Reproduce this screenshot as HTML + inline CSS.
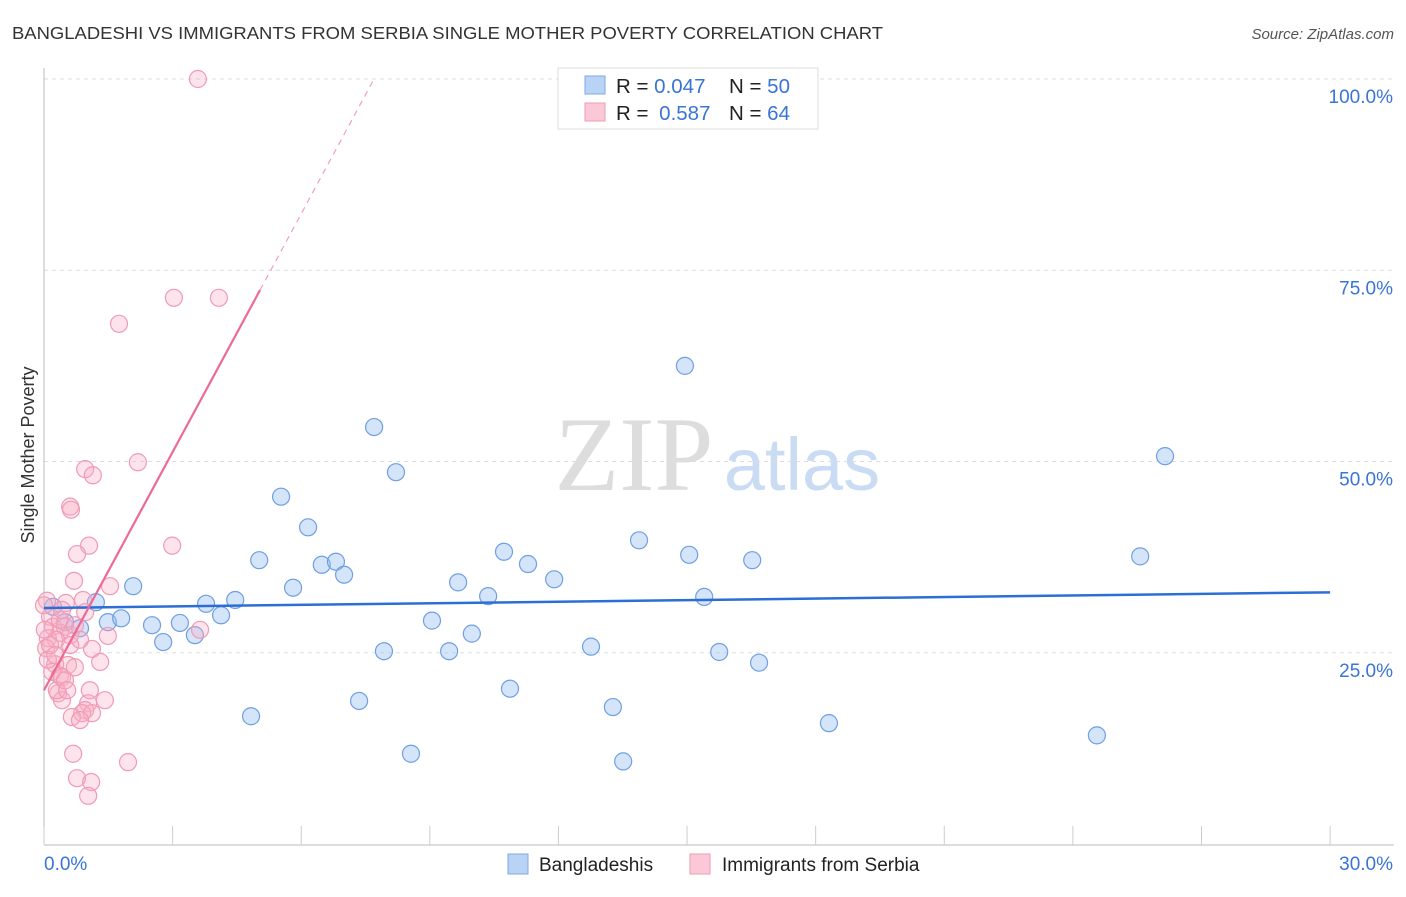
<!DOCTYPE html>
<html><head><meta charset="utf-8"><style>
body{margin:0;background:#fff;font-family:"Liberation Sans",sans-serif;}
svg text{font-family:"Liberation Sans",sans-serif;}
</style></head><body>
<svg id="chart" width="1406" height="892">
<text x="12" y="39" font-size="17.5" fill="#333" textLength="871" lengthAdjust="spacingAndGlyphs">BANGLADESHI VS IMMIGRANTS FROM SERBIA SINGLE MOTHER POVERTY CORRELATION CHART</text>
<text x="1394" y="39" font-size="15" fill="#555" font-style="italic" text-anchor="end">Source: ZipAtlas.com</text>
<text transform="translate(34,455) rotate(-90)" font-size="18" fill="#333" text-anchor="middle">Single Mother Poverty</text>
<g>
<text x="634" y="490" font-size="106" fill="#ddd" text-anchor="middle" font-family="Liberation Serif" style="font-family:'Liberation Serif',serif">ZIP</text>
<text x="802" y="490" font-size="74" fill="#c9dcf3" text-anchor="middle">atlas</text>
</g>
<g id="grid"></g><g id="axes"></g><g id="pts"></g><g id="lines"></g>
<g>
<rect x="558" y="68" width="260" height="61" fill="#fff" stroke="#ddd"/>
<rect x="585" y="76" width="20" height="18" fill="#b9d3f5" stroke="#7ea9e6"/>
<rect x="585" y="103" width="20" height="18" fill="#fbc8d7" stroke="#f19ab5"/>
<text x="616" y="93" font-size="20.5" fill="#222">R = <tspan fill="#3a74d6">0.047</tspan></text>
<text x="729" y="93" font-size="20.5" fill="#222">N = <tspan fill="#3a74d6">50</tspan></text>
<text x="616" y="120" font-size="20.5" fill="#222">R = <tspan fill="#3a74d6" dx="5">0.587</tspan></text>
<text x="729" y="120" font-size="20.5" fill="#222">N = <tspan fill="#3a74d6">64</tspan></text>
</g>
<g>
<rect x="508" y="854" width="20" height="20" fill="#b9d3f5" stroke="#7ea9e6"/>
<text x="539" y="871" font-size="19" fill="#222">Bangladeshis</text>
<rect x="690" y="854" width="20" height="20" fill="#fbc8d7" stroke="#f19ab5"/>
<text x="722" y="871" font-size="19" fill="#222">Immigrants from Serbia</text>
</g>
</svg>
<script>
const blueX=[0.21,0.49,0.84,1.21,1.49,1.80,2.08,2.52,2.78,3.17,3.52,3.78,4.13,4.46,4.83,5.02,5.53,5.81,6.16,6.48,6.81,7.00,7.35,7.70,7.93,8.21,8.56,9.05,9.45,9.66,9.98,10.36,10.73,10.87,11.29,11.90,12.76,13.27,13.51,13.88,14.95,15.05,15.40,15.75,16.52,16.68,18.31,24.56,25.57,26.15];
const blueY=[31.0,29.0,28.2,31.6,29.0,29.5,33.7,28.6,26.4,28.9,27.3,31.4,29.9,31.9,16.7,37.1,45.4,33.5,41.4,36.5,36.9,35.2,18.7,54.5,25.2,48.6,11.8,29.2,25.2,34.2,27.5,32.4,38.2,20.3,36.6,34.6,25.8,17.9,10.8,39.7,62.5,37.8,32.3,25.1,37.1,23.7,15.8,14.2,37.6,50.7];
const pinkX=[3.59,3.03,4.08,1.75,2.19,0.96,1.14,0.61,0.63,1.05,2.99,0.77,0.70,1.54,0.07,0.51,0.91,0.96,0.14,0.21,0.37,0.49,0.61,0.09,0.28,1.49,3.64,1.12,0.05,0.26,0.56,0.72,0.19,0.37,0.42,1.31,0.33,0.42,1.42,1.03,0.96,0.89,1.12,0.65,0.84,0.68,1.96,0.77,1.10,1.03,0.02,0.09,0.30,0.49,0.37,0.14,0.26,0.61,0.72,0.42,0.84,0.54,1.07,0.0];
const pinkY=[100,71.4,71.4,68.0,49.9,49.0,48.2,44.1,43.7,39.0,39.0,37.9,34.4,33.7,31.8,31.5,31.9,30.3,29.7,28.4,27.6,28.4,27.3,26.9,26.7,27.2,28.0,25.5,25.6,23.5,23.4,23.1,22.5,22.0,21.8,23.8,19.7,18.8,18.8,18.4,17.5,17.1,17.1,16.6,16.2,11.8,10.7,8.6,8.1,6.3,28.0,24.1,20.1,21.4,29.3,26.0,24.7,26.0,28.6,30.6,26.7,20.1,20.1,31.2];
const yTicks=[25,50,75,100];
const yTickLabels=["25.0%","50.0%","75.0%","100.0%"];
const xTicks=[0,3,6,9,12,15,18,21,24,27,30];
const blueFit=[30.85,32.9];
const pinkFit=[20.1,10.38];
const NS="http://www.w3.org/2000/svg";
const sx=v=>44+v*42.87, sy=v=>844-v*7.65;
function mk(t,a,p){const e=document.createElementNS(NS,t);for(const k in a)e.setAttribute(k,a[k]);document.getElementById(p).appendChild(e);return e;}
yTicks.forEach((v,i)=>{
 const l=mk('line',{x1:44,x2:1394,y1:sy(v),y2:sy(v),stroke:'#ddd','stroke-dasharray':'4,4'},'grid');
 
 
 const t=mk('text',{x:1393,y:sy(v)+24,'text-anchor':'end','font-size':19,fill:'#3a74d6'},'grid');
 t.textContent=yTickLabels[i];
 
 
});
const ax=mk('line',{x1:44,x2:1394,y1:845,y2:845,stroke:'#bbb'},'axes');


const ay=mk('line',{x1:44,x2:44,y1:68,y2:845,stroke:'#bbb'},'axes');


xTicks.forEach(v=>{
 const l=mk('line',{x1:sx(v),x2:sx(v),y1:826,y2:845,stroke:'#ccc'},'axes');
 
 
});
const t0=mk('text',{x:44,y:870,'font-size':19,fill:'#3a74d6'},'axes');t0.textContent=xTicks[0].toFixed(1)+'%';


const t1=mk('text',{x:1393,y:870,'font-size':19,fill:'#3a74d6','text-anchor':'end'},'axes');t1.textContent=xTicks[xTicks.length-1].toFixed(1)+'%';


blueX.forEach((x,i)=>{
 const c=mk('circle',{cx:sx(x),cy:sy(blueY[i]),r:8.5,fill:'rgba(150,190,240,0.4)',stroke:'#6f9fe2','stroke-width':1.2},'pts');
 
 
});
pinkX.forEach((x,i)=>{
 const c=mk('circle',{cx:sx(x),cy:sy(pinkY[i]),r:8.5,fill:'rgba(248,175,198,0.35)',stroke:'#f09ab6','stroke-width':1.2},'pts');
 
 
});
const bl=mk('line',{x1:sx(0),y1:sy(blueFit[0]),x2:sx(30),y2:sy(blueFit[1]),stroke:'#2c6fd4','stroke-width':2.5},'lines');


const xs=5.04, xe=(100-pinkFit[0])/pinkFit[1];
const pl=mk('line',{x1:sx(0),y1:sy(pinkFit[0]),x2:sx(xs),y2:sy(pinkFit[0]+pinkFit[1]*xs),stroke:'#ec6a95','stroke-width':2.2},'lines');


const pd=mk('line',{x1:sx(xs),y1:sy(pinkFit[0]+pinkFit[1]*xs),x2:sx(xe),y2:sy(100),stroke:'#f1a0bb','stroke-width':1.2,'stroke-dasharray':'6,5'},'lines');


</script>
</body></html>
